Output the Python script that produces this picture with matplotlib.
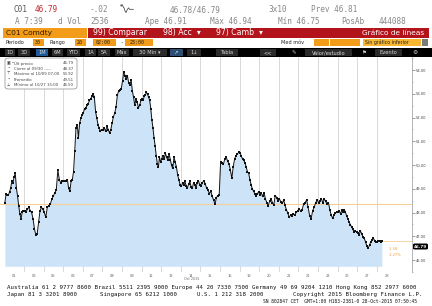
import numpy as np
import matplotlib
matplotlib.use("Agg")
import matplotlib.pyplot as plt
from matplotlib.patches import Rectangle, FancyBboxPatch

# ---------------- data ----------------
day_labels = ["01", "02", "05", "06", "07", "08", "09", "12", "13", "14",
              "15", "16", "19", "20", "21", "22", "23", "26", "27", "28"]
d01 = [48.42, 48.78, 48.76, 48.74, 48.86, 49.03, 49.31, 49.24, 49.51, 49.65,
       49.03, 48.69, 48.28, 47.94, 47.74, 48.01, 48.08]
d02 = [48.08, 48.01, 48.15, 48.22, 48.08, 48.01, 47.74, 47.33, 47.05, 47.12,
       47.60, 48.08, 48.22, 48.15]
d05 = [48.01, 47.80, 48.22, 48.28, 48.35, 48.56, 48.69, 48.83, 48.97, 49.79,
       49.38, 49.24, 49.31]
d06 = [49.31, 49.35, 49.31, 49.38, 49.03, 48.90, 49.31, 49.38, 49.72, 50.60,
       51.56, 51.70, 51.15, 51.77, 51.97, 52.11]
d07 = [52.18, 52.38, 52.41, 52.52, 52.58, 52.72, 52.79, 52.90, 53.00, 52.86,
       52.25, 51.97, 51.70, 51.56, 51.42, 51.49]
d08 = [51.49, 51.56, 51.42, 51.63, 51.49, 51.36, 51.49, 51.77, 52.04, 52.18,
       52.45, 52.93, 53.13, 53.17, 53.22]
d09 = [53.54, 53.92, 53.77, 53.63, 53.75, 53.47, 53.36, 53.58, 53.13, 52.86,
       52.52, 52.79, 52.65, 52.41, 52.52, 52.72]
d12 = [52.79, 52.72, 52.90, 52.95, 53.06, 52.99, 52.86, 52.72, 52.38, 51.90,
       51.56, 51.15, 50.81, 50.40, 50.06, 49.92, 50.33, 50.13]
d13 = [50.26, 50.40, 50.26, 50.49, 50.33, 50.20, 50.47, 50.22, 49.99, 49.86,
       50.33, 50.13, 49.92, 49.58, 49.38, 49.17]
d14 = [49.10, 49.24, 49.17, 49.31, 49.13, 49.03, 49.21, 49.31, 49.08, 49.03,
       49.26, 49.17, 49.03, 49.26, 49.34, 49.17]
d15 = [49.10, 49.26, 49.34, 49.21, 49.03, 48.94, 48.80, 48.90, 48.69, 48.53,
       48.35, 48.63, 48.72, 48.76]
d16 = [50.13, 50.09, 50.04, 50.26, 50.33, 50.17, 50.04, 49.79, 49.44, 49.92,
       50.26, 50.40, 50.47, 50.54]
d19 = [50.51, 50.37, 50.26, 50.20, 50.09, 49.90, 49.72, 49.65, 49.38, 49.17,
       48.99, 48.90, 48.80, 48.69, 48.80, 48.86]
d20 = [48.76, 48.83, 48.69, 48.83, 48.58, 48.42, 48.28, 48.49, 48.58, 48.42,
       48.31, 48.72, 48.63, 48.49]
d21 = [48.58, 48.45, 48.39, 48.53, 48.31, 48.12, 47.98, 47.80, 47.90, 47.85,
       47.94, 47.90, 48.01, 48.08]
d22 = [48.15, 48.08, 48.12, 48.35, 48.42, 48.53, 48.22, 47.87, 47.74, 48.08,
       48.22, 48.42, 48.53]
d23 = [48.42, 48.49, 48.58, 48.42, 48.56, 48.49, 48.35, 48.42, 48.12, 47.90,
       47.76, 47.90, 47.98, 48.04]
d26 = [48.01, 48.06, 47.94, 48.12, 48.04, 48.12, 48.01, 47.85, 47.74, 47.60,
       47.49, 47.40, 47.30, 47.19, 47.22, 47.19]
d27 = [47.16, 47.05, 47.22, 47.12, 46.98, 46.92, 46.75, 46.58, 46.50, 46.64,
       46.78, 46.85, 46.92, 46.81, 46.78]
d28 = [46.78, 46.80, 46.79, 46.78, 46.79]
daily_prices = [d01, d02, d05, d06, d07, d08, d09, d12, d13, d14,
                d15, d16, d19, d20, d21, d22, d23, d26, d27, d28]
last_day_fraction = 0.29

y_ticks = [46, 47, 48, 49, 50, 51, 52, 53, 54]
prev_close = 48.37
last_price = 46.79

legend_labels = ["Últ precio", "Cierre al 09/30 -----", "Máximo al 10/09 07:00",
                 "Promedio", "Mínimo al 10/27 15:00"]
legend_values = ["46.79", "48.37", "53.92", "49.51", "46.50"]

# ---------------- build series ----------------
xs, ys = [], []
for i, vals in enumerate(daily_prices):
    n = len(vals)
    frac = last_day_fraction if i == len(daily_prices) - 1 else 1.0
    xs.extend(i + (np.arange(n) + 0.5) / n * frac)
    ys.extend(vals)
xs = np.array(xs)
ys = np.array(ys)

W, H = 432, 306
fig = plt.figure(figsize=(W / 100, H / 100), dpi=100)
fig.patch.set_facecolor("white")
SYM = ["DejaVu Sans", "Noto Sans", "Noto Sans CJK SC"]


def fx(x):
    return x / W


def fy(y):
    return 1 - y / H


def rect(x0, y0, x1, y1, color, **kw):
    fig.add_artist(Rectangle((fx(x0), fy(y1)), fx(x1 - x0), (y1 - y0) / H,
                             transform=fig.transFigure, facecolor=color,
                             edgecolor="none", **kw))


def txt(x, y, s, size=5.6, color="#555555", family="DejaVu Sans Mono", **kw):
    fig.text(fx(x), fy(y), s, fontsize=size, color=color, family=family,
             va="center", **kw)


# ---------------- header ----------------
txt(13, 10, "C01", color="#555555")
txt(35, 10, "46.79", color="#c0282d")
txt(90, 10, "-.02", color="#888888")
txt(170, 10, "46.78/46.79", color="#888888")
txt(268, 10, "3x10", color="#888888")
txt(311, 10, "Prev 46.81", color="#888888")
txt(15, 22, "A 7:39", color="#888888")
txt(58, 22, "d Vol", color="#888888")
txt(90, 22, "2536", color="#888888")
txt(145, 22, "Ape 46.91", color="#888888")
txt(210, 22, "Máx 46.94", color="#888888")
txt(278, 22, "Mín 46.75", color="#888888")
txt(341, 22, "PosAb", color="#888888")
txt(379, 22, "444088", color="#888888")

# sparkline
spark = fig.add_axes([fx(120), fy(13), fx(14), 9 / H])
spark.plot(np.arange(len(d27 + d28)), d27 + d28, color="#333333", lw=0.5)
spark.axis("off")

# orange/red bar
rect(3, 28, 87, 37.5, "#f39c1a")
txt(6, 32.8, "C01 Comdty", size=5.4, color="#2b1a00", family="DejaVu Sans")
rect(88, 28, 429, 37.5, "#b3141c")
txt(93, 32.8, "99) Comparar", size=5.6, color="white", family="DejaVu Sans")
txt(163, 32.8, "98) Acc  ▾", size=5.6, color="white", family="DejaVu Sans")
txt(216, 32.8, "97) Camb  ▾", size=5.6, color="white", family="DejaVu Sans")
fig.text(fx(424), fy(32.8), "Gráfico de líneas", fontsize=5.3, color="white",
         family="DejaVu Sans", va="center", ha="right")

# row 4
txt(5, 42.5, "Periodo", size=3.6, color="#222222", family="DejaVu Sans")
rect(33, 39, 44, 46, "#f39c1a")
txt(35, 42.5, "30", size=3.6, color="#222222")
txt(50, 42.5, "Rango", size=3.6, color="#222222", family="DejaVu Sans")
rect(75, 39, 86, 46, "#f39c1a")
txt(77, 42.5, "20", size=3.6, color="#222222")
rect(93, 39, 116, 46, "#f39c1a")
txt(96, 42.5, "02:00", size=3.6, color="#222222")
txt(120, 42.5, "-", size=3.6, color="#222222")
rect(125, 39, 153, 46, "#f39c1a")
txt(130, 42.5, "23:00", size=3.6, color="#222222")
txt(281, 42.5, "Med móv", size=3.6, color="#222222", family="DejaVu Sans")
for a in (314, 330, 345):
    rect(a, 39, a + 14.5, 46, "#f39c1a")
rect(363, 39, 421, 46, "#f7b733")
txt(365, 42.5, "Sin gráfico inferior", size=3.4, color="#222222",
    family="DejaVu Sans")
rect(421.5, 39, 428, 46, "#7a7a7a")

# row 5 black bar
rect(0, 48, 432, 57, "#000000")
buttons = [(5, 15, "1D"), (18, 30, "3D"), (36, 48, "1M"), (52, 63, "6M"),
           (67, 80, "YTD"), (85, 96, "1A"), (98, 110, "5A"), (115, 129, "Máx"),
           (133, 167, "30 Min ▾"), (187, 201, "1↓"), (216, 238, "Tabla"),
           (260, 276, "<<"), (305, 352, "Valor/estudio"), (375, 402, "Evento")]
for a, b, s in buttons:
    col = "#1d5a96" if s == "1M" else "#2b2b2b"
    rect(a, 49, b, 56, col)
    fig.text(fx((a + b) / 2), fy(52.6), s, fontsize=3.7, color="#d8d8d8",
             family=SYM, ha="center", va="center")
rect(170, 49, 183, 56, "#2d4f73")
txt(173, 52.6, "↗", size=3.9, color="#cfe0ff", family=SYM)
txt(292, 52.6, "✎", size=3.9, color="#d8d8d8", family=SYM)
txt(361, 52.6, "⚑", size=3.9, color="#d8d8d8", family=SYM)
txt(412, 52.6, "⚙", size=4.2, color="#d8d8d8", family=SYM)

# ---------------- main plot ----------------
ax = fig.add_axes([0, fy(272), fx(412), (272 - 57) / H])
ax.set_facecolor("white")
ymin, ymax = 45.74, 54.55
ax.set_ylim(ymin, ymax)
ax.set_xlim(-0.22, 20.8)

for b in range(1, len(day_labels)):
    ax.axvline(b, color="#c9c9c9", lw=0.5, zorder=0)

ax.fill_between(xs, ys, ymin, color="#cde4f8", lw=0, zorder=1)
ax.axhline(prev_close, color="#f6cf94", lw=0.8, zorder=2)
ax.plot([xs[-1], 20.8], [last_price, last_price], color="#f6cf94", lw=0.6,
        zorder=2)
ax.plot(xs, ys, color="#111111", lw=0.7, marker="s", markersize=1.7,
        markeredgewidth=0, zorder=3)

ax.yaxis.tick_right()
ax.set_yticks(y_ticks)
ax.set_yticklabels([f"{v:.2f}" for v in y_ticks])
ax.set_yticks(np.arange(45.5, 54.6, 0.5), minor=True)
ax.tick_params(axis="y", which="major", labelsize=2.6, length=2, width=0.5,
               color="#777777", labelcolor="#444444", pad=1)
ax.tick_params(axis="y", which="minor", length=1, width=0.4, color="#999999")
ax.set_xticks(np.arange(len(day_labels)) + 0.5)
ax.set_xticklabels(day_labels)
ax.tick_params(axis="x", length=0, labelsize=2.6, labelcolor="#666666", pad=1.5)
for s in ("top", "left", "bottom"):
    ax.spines[s].set_visible(False)
ax.spines["right"].set_color("#999999")
ax.spines["right"].set_linewidth(0.5)

fig.text(fx(192), fy(279.5), "Oct 2015", fontsize=2.4, color="#666666",
         ha="center", va="center")

# last price tag and change
fig.add_artist(FancyBboxPatch((fx(413), fy(249.5)), fx(15), 6 / H,
                              boxstyle="round,pad=0,rounding_size=0.004",
                              transform=fig.transFigure, facecolor="black",
                              edgecolor="none"))
fig.text(fx(420.5), fy(246.5), "46.79", fontsize=3.0, color="white",
         ha="center", va="center", weight="bold")
fig.text(fx(389), fy(249.5), "-1.58", fontsize=2.6, color="#f0a040",
         va="center")
fig.text(fx(389), fy(254.5), "-3.27%", fontsize=2.6, color="#f0a040",
         va="center")

# legend box
fig.add_artist(FancyBboxPatch((fx(5), fy(89)), fx(72), 31 / H,
                              boxstyle="round,pad=0,rounding_size=0.008",
                              transform=fig.transFigure, facecolor="white",
                              edgecolor="#8a8a8a", linewidth=0.5, zorder=5))
icons = ["▣ •", "•", "⊤", "•", "⊥"]
for k, (lab, val, ic) in enumerate(zip(legend_labels, legend_values, icons)):
    yy = 63.5 + k * 5.4
    fig.text(fx(7), fy(yy), ic, fontsize=2.8, color="#333333", va="center",
             family=SYM, zorder=6)
    fig.text(fx(14), fy(yy), lab, fontsize=2.8, color="#444444", va="center",
             zorder=6)
    fig.text(fx(74), fy(yy), val, fontsize=2.8, color="#444444", va="center",
             ha="right", zorder=6)

# ---------------- footer ----------------
txt(7, 287, "Australia 61 2 9777 8600 Brazil 5511 2395 9000 Europe 44 20 7330 "
    "7500 Germany 49 69 9204 1210 Hong Kong 852 2977 6000", size=4.15,
    color="#111111")
txt(7, 294.5, "Japan 81 3 3201 8900", size=4.15, color="#111111")
txt(100, 294.5, "Singapore 65 6212 1000", size=4.15, color="#111111")
txt(197, 294.5, "U.S. 1 212 318 2000", size=4.15, color="#111111")
txt(293, 294.5, "Copyright 2015 Bloomberg Finance L.P.", size=4.15,
    color="#111111")
txt(263, 301.5, "SN 802847 CET  GMT+1:00 H183-2381-0 28-Oct-2015 07:50:45",
    size=3.3, color="#111111")

fig.savefig("out.png", dpi=100, facecolor="white")
